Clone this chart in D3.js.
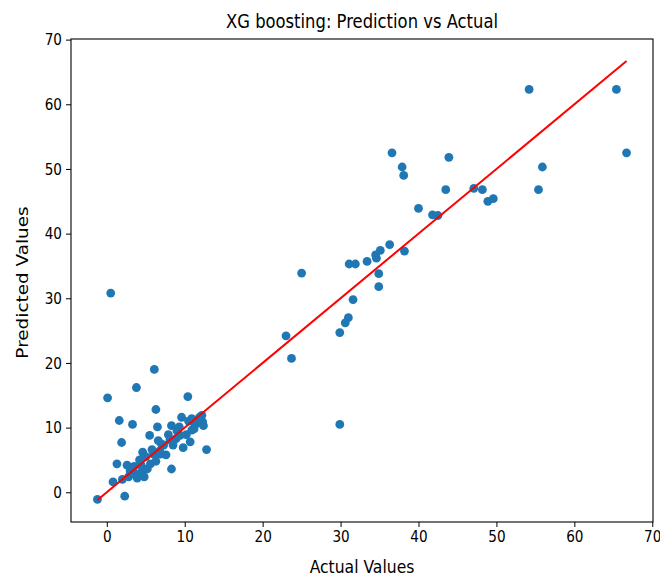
<!DOCTYPE html>
<html>
<head>
<meta charset="utf-8">
<script src="https://cdn.jsdelivr.net/npm/d3@7"></script>
<style>
  body { margin: 0; background: #fff; }
  text { font-family: "DejaVu Sans", sans-serif; fill: #000; }
  .tall { transform-box: fill-box; transform-origin: center; transform: scaleY(1.18); }
</style>
</head>
<body>
<div id="infovis"></div>
<script>
// actual vs predicted values
var actual = [54.2, 65.4, 66.7, 55.9, 55.4, 36.6, 37.9, 38.1, 43.9, 43.5,
    47.1, 48.2, 48.9, 49.6, 40.0, 41.8, 42.5, 36.3, 38.2, 35.1,
    34.5, 33.4, 31.1, 31.9, 34.9, 34.9, 31.6, 31.0, 30.6, 29.9,
    25.0, 23.0, 23.7, 29.9, 34.6,
    0.5, 6.1, 3.8, 0.1, 10.4, 6.3, 1.6, 3.3, 9.6, 10.9,
    11.9, 12.3, 11.2, 8.3, 6.5, 5.5, 1.9, 10.7, 12.8, 8.3,
    -1.2, 2.3, 0.8, 1.3, 2.6, 3.0, 3.8, 4.8, 5.2, 4.2,
    4.6, 5.6, 6.3, 6.0, 6.8, 7.6, 7.3, 8.5, 8.9, 9.4,
    10.2, 9.8, 11.3, 12.4, 9.0, 3.5, 5.0, 2.0, 4.5, 7.0,
    11.8, 10.5, 2.8, 6.6, 5.8, 7.9, 9.3, 10.9, 12.2, 3.9,
    4.4, 6.9, 8.1, 11.6];
var predicted = [62.3, 62.3, 52.5, 50.3, 46.8, 52.5, 50.3, 49.0, 51.8, 46.8,
    47.0, 46.8, 45.0, 45.4, 43.9, 42.9, 42.8, 38.3, 37.3, 37.4,
    36.7, 35.7, 35.3, 35.3, 33.8, 31.8, 29.8, 27.0, 26.2, 24.7,
    33.9, 24.2, 20.7, 10.5, 36.2,
    30.8, 19.0, 16.2, 14.6, 14.8, 12.8, 11.1, 10.5, 11.6, 11.4,
    11.6, 10.9, 9.8, 10.3, 10.1, 8.8, 7.7, 7.8, 6.6, 3.6,
    -1.1, -0.6, 1.6, 4.4, 4.2, 3.3, 2.8, 2.4, 3.6, 5.0,
    6.2, 4.4, 4.8, 5.9, 6.4, 5.8, 7.3, 7.3, 8.3, 8.8,
    8.9, 6.9, 10.4, 10.3, 9.5, 4.0, 5.5, 2.0, 3.2, 7.5,
    10.8, 11.0, 2.4, 8.0, 6.6, 8.9, 10.1, 9.6, 11.9, 2.2,
    4.2, 5.9, 8.1, 11.2];
var xTicks = [0, 10, 20, 30, 40, 50, 60, 70];
var yTicks = [0, 10, 20, 30, 40, 50, 60, 70];

var margin = {top: 39, right: 7, bottom: 56, left: 71},
    width = 660 - margin.left - margin.right,
    height = 578 - margin.top - margin.bottom;

var svg = d3.select("#infovis").append("svg")
    .attr("width", 660)
    .attr("height", 578);
var g = svg.append("g")
    .attr("transform", "translate(" + margin.left + "," + margin.top + ")");

// matplotlib style 5% padding around the data and the y=x line
var ext = d3.extent(actual.concat(predicted));
var pad = (ext[1] - ext[0]) * 0.05;
var lineExt = d3.extent(actual);

var x = d3.scaleLinear()
    .domain([lineExt[0] - pad, lineExt[1] + pad])
    .range([0, width]);
var y = d3.scaleLinear()
    .domain([ext[0] - pad, lineExt[1] + pad])
    .range([height, 0]);

g.append("g")
    .attr("transform", "translate(0," + height + ")")
    .call(d3.axisBottom(x).tickValues(xTicks).tickSize(5).tickPadding(5));
g.append("g")
    .call(d3.axisLeft(y).tickValues(yTicks).tickSize(5).tickPadding(4));
svg.selectAll(".tick text")
    .attr("class", "tall")
    .style("font-size", "13.6px")
    .style("font-family", "DejaVu Sans");
svg.selectAll(".domain").remove();

// scatter
g.selectAll("circle")
    .data(actual)
    .enter().append("circle")
    .attr("cx", function(d){ return x(d); })
    .attr("cy", function(d, i){ return y(predicted[i]); })
    .attr("r", 4.4)
    .style("fill", "#1f77b4");

// perfect prediction line
g.append("line")
    .attr("x1", x(lineExt[0]))
    .attr("y1", y(lineExt[0]))
    .attr("x2", x(lineExt[1]))
    .attr("y2", y(lineExt[1]))
    .attr("stroke", "red")
    .attr("stroke-width", 2);

// frame
g.append("rect")
    .attr("width", width)
    .attr("height", height)
    .attr("fill", "none")
    .attr("stroke", "black")
    .attr("stroke-width", 1.1);

svg.append("text")
    .attr("class", "tall")
    .attr("x", margin.left + width / 2)
    .attr("y", 27)
    .attr("text-anchor", "middle")
    .style("font-size", "16.4px")
    .text("XG boosting: Prediction vs Actual");

svg.append("text")
    .attr("class", "tall")
    .attr("x", margin.left + width / 2)
    .attr("y", 572)
    .attr("text-anchor", "middle")
    .style("font-size", "15.6px")
    .text("Actual Values");

svg.append("text")
    .attr("transform", "translate(28," + (margin.top + height / 2 + 2) + ") rotate(-90) scale(1.18,1)")
    .attr("text-anchor", "middle")
    .style("font-size", "15.6px")
    .text("Predicted Values");
</script>
</body>
</html>
